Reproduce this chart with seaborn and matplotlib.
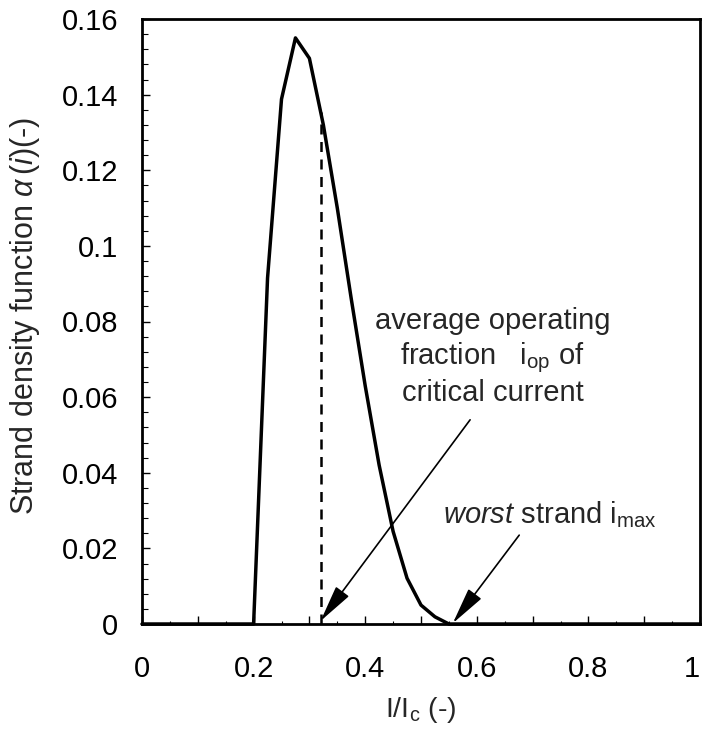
import numpy as np
import pandas as pd
import matplotlib
matplotlib.use("Agg")
import matplotlib.pyplot as plt
from matplotlib.ticker import MultipleLocator, FuncFormatter
import seaborn as sns

# strand current fraction I/Ic and density alpha(i)
i_frac = [0.0, 0.2, 0.225, 0.25, 0.275, 0.3, 0.325, 0.35, 0.375, 0.4,
          0.425, 0.45, 0.475, 0.5, 0.525, 0.55, 1.0]
alpha = [0.0, 0.0, 0.0915, 0.1388, 0.155, 0.1496, 0.132, 0.110, 0.086, 0.063,
         0.042, 0.0245, 0.0121, 0.005, 0.0019, 0.0, 0.0]

i_op = 0.32      # average operating fraction
i_max = 0.557    # worst strand

x_ticks = [0, 0.2, 0.4, 0.6, 0.8, 1.0]
y_ticks = [0, 0.02, 0.04, 0.06, 0.08, 0.1, 0.12, 0.14, 0.16]


def main():
    sns.set_style("ticks")
    plt.rcParams["font.family"] = ["Liberation Sans", "DejaVu Sans"]
    plt.rcParams["mathtext.fontset"] = "custom"
    plt.rcParams["mathtext.rm"] = "Liberation Sans"
    plt.rcParams["mathtext.it"] = "Liberation Sans:italic"
    plt.rcParams["mathtext.cal"] = "Liberation Serif:italic"
    fs = 21

    df = pd.DataFrame({"i": i_frac, "alpha": alpha})

    fig = plt.figure(figsize=(7.03, 7.33), dpi=100)
    ax = fig.add_axes([142 / 703, 1 - 624 / 733, 558 / 703, 605 / 733])

    sns.lineplot(data=df, x="i", y="alpha", ax=ax, color="black", lw=2.5,
                 sort=True, clip_on=False)

    # dashed line up to the curve at the operating point
    top = np.interp(i_op, i_frac, alpha)
    ax.plot([i_op, i_op], [0, top], color="black", lw=1.8, ls=(0, (4, 3)))

    ax.set_xlim(0, 1)
    ax.set_ylim(0, 0.16)

    ax.xaxis.set_major_locator(MultipleLocator(0.1))
    ax.xaxis.set_minor_locator(MultipleLocator(0.05))
    ax.xaxis.set_major_formatter(FuncFormatter(
        lambda v, p: f"{v:g}" if any(abs(v - t) < 1e-6 for t in x_ticks) else ""))
    ax.set_yticks(y_ticks)
    ax.yaxis.set_minor_locator(MultipleLocator(0.004))
    ax.yaxis.set_major_formatter(FuncFormatter(lambda v, p: f"{v:g}"))

    ax.tick_params(axis="both", which="both", direction="in", color="black",
                   labelsize=fs, labelcolor="black")
    ax.tick_params(axis="x", which="major", length=6, width=1.0, pad=22)
    ax.tick_params(axis="x", which="minor", length=2, width=0.8)
    ax.tick_params(axis="y", which="major", length=6, width=1.0, pad=17)
    ax.tick_params(axis="y", which="minor", length=4.3, width=0.8)

    for s in ax.spines.values():
        s.set_visible(True)
        s.set_linewidth(2.0)
        s.set_color("black")

    # keep the last x label ("1") inside the figure
    fig.canvas.draw()
    for lab in ax.get_xticklabels():
        if lab.get_text() == "1":
            lab.set_ha("right")
            lab.set_x(lab.get_position()[0])

    ax.set_xlabel(r"I/I$_\mathrm{c}$ (-)", fontsize=20.5, labelpad=9)
    ax.set_ylabel(r"Strand density function $\alpha\,(i)$(-)", fontsize=22)
    ax.yaxis.set_label_coords(-0.18, 0.51)

    # annotations
    ax.text(0.628, 0.059, "average operating\nfraction   i$_\\mathrm{op}$ of\ncritical current",
            ha="center", va="baseline", fontsize=fs, linespacing=1.2)
    ax.annotate("", xy=(i_op, 0.0008), xytext=(0.588, 0.054),
                arrowprops=dict(arrowstyle="-|>,head_length=1.15,head_width=0.25",
                                mutation_scale=20, color="black", lw=1.2,
                                shrinkA=0, shrinkB=0))
    ax.text(0.539, 0.0267, r"$\mathit{worst}$ strand i$_\mathrm{max}$",
            ha="left", va="baseline", fontsize=fs)
    ax.annotate("", xy=(i_max, 0.0002), xytext=(0.676, 0.0235),
                arrowprops=dict(arrowstyle="-|>,head_length=1.15,head_width=0.25",
                                mutation_scale=20, color="black", lw=1.2,
                                shrinkA=0, shrinkB=0))

    fig.savefig("out.png", dpi=100)
    plt.close(fig)


if __name__ == "__main__":
    main()
